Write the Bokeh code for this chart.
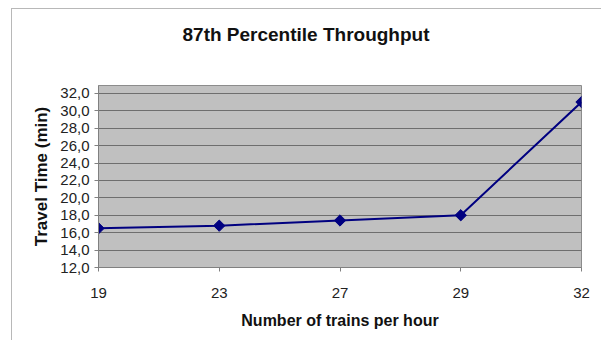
import math
from bokeh.plotting import figure
from bokeh.models import FixedTicker, Range1d, ColumnDataSource, Title
from bokeh.embed import file_html
from bokeh.resources import INLINE

# Trains per hour (category labels) and 87th percentile travel time (min)
trains_per_hour = ["19", "23", "27", "29", "32"]
travel_time = [16.5, 16.8, 17.4, 18.0, 31.0]
y_ticks = [12, 14, 16, 18, 20, 22, 24, 26, 28, 30, 32]

positions = list(range(len(trains_per_hour)))
src = ColumnDataSource(dict(x=positions, y=travel_time))

FONT = "Liberation Sans"

p = figure(width=590, height=332, output_backend="svg", toolbar_location=None,
           x_range=Range1d(0, len(trains_per_hour) - 1), y_range=Range1d(12, 32.9),
           min_border_left=86, min_border_right=21, min_border_top=76, min_border_bottom=74)

# light frame around the whole chart area
p.margin = (8, 0, 0, 11)
p.styles = {"border-left": "1px solid #b8b8b8", "border-top": "1px solid #b8b8b8"}

# blank spacer between the plot area and the title
p.add_layout(Title(text=" ", text_font_size="1px", standoff=33), "above")
p.add_layout(Title(text="87th Percentile Throughput", text_font=FONT,
                   text_font_size="19px", text_font_style="bold", text_color="#111111",
                   align="left", offset=84, standoff=10), "above")

p.background_fill_color = "#c0c0c0"
p.border_fill_color = "white"
p.outline_line_color = "#8c8c8c"
p.outline_line_width = 1

p.xgrid.visible = False
p.ygrid.ticker = FixedTicker(ticks=y_ticks)
p.ygrid.grid_line_color = "#6e6e6e"
p.ygrid.grid_line_width = 1

p.xaxis.ticker = FixedTicker(ticks=positions)
p.xaxis.major_label_overrides = {i: lab for i, lab in enumerate(trains_per_hour)}
p.yaxis.ticker = FixedTicker(ticks=y_ticks)
p.yaxis.major_label_overrides = {t: f"{t:.1f}".replace(".", ",") for t in y_ticks}

for ax in (p.xaxis[0], p.yaxis[0]):
    ax.axis_line_color = "#808080"
    ax.major_tick_line_color = "#808080"
    ax.major_tick_in = 0
    ax.major_tick_out = 4
    ax.minor_tick_line_color = None
    ax.major_label_text_font = FONT
    ax.major_label_text_font_size = "15px"
    ax.major_label_text_color = "#222222"
    ax.axis_label_text_font = FONT
    ax.axis_label_text_font_style = "bold"
    ax.axis_label_text_color = "#111111"

p.xaxis.axis_label = "Number of trains per hour"
p.xaxis.axis_label_text_font_size = "16px"
p.xaxis.major_label_standoff = 16
p.xaxis.axis_label_standoff = 11
p.yaxis.axis_label = "Travel Time (min)"
p.yaxis.axis_label_text_font_size = "17px"
p.yaxis.major_label_standoff = 5
p.yaxis.axis_label_standoff = 6

p.line("x", "y", source=src, line_color="#000080", line_width=2)
p.scatter("x", "y", source=src, marker="square", angle=math.pi / 4, size=8,
          fill_color="#000080", line_color="#000080")

open("out.html", "w").write(file_html(p, INLINE))
